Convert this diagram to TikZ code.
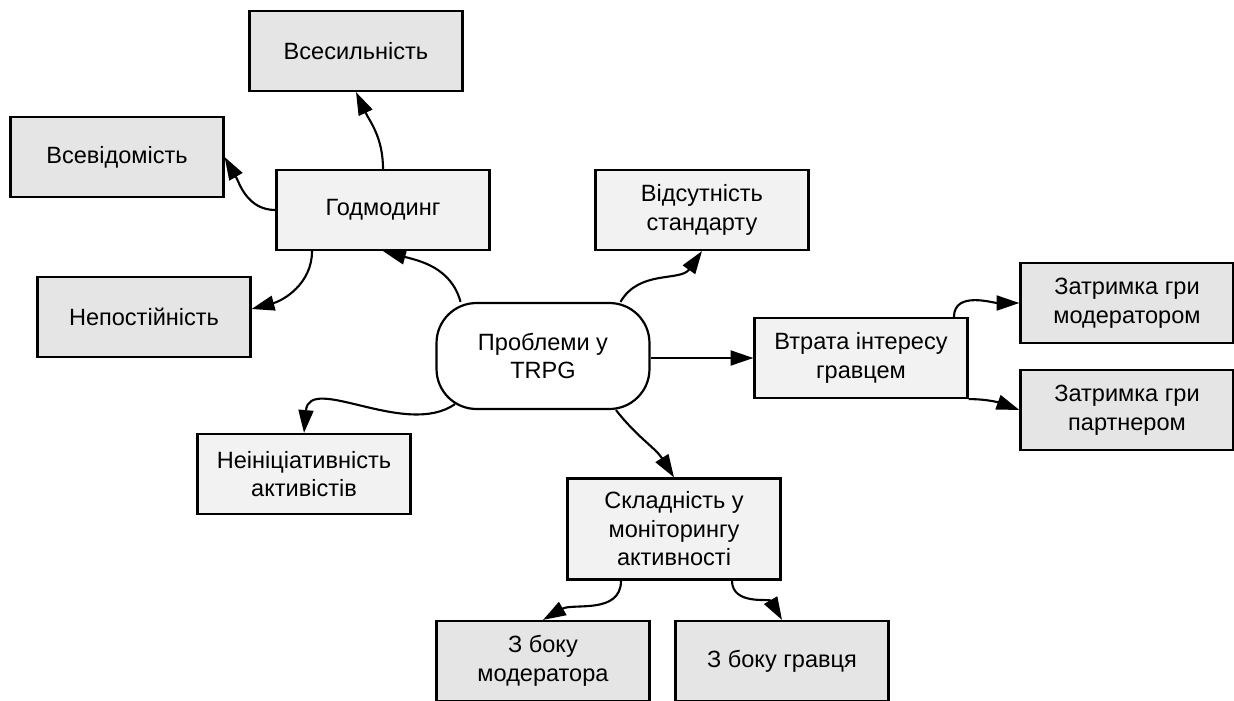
\documentclass[tikz,border=0pt]{standalone}
\usepackage{fontspec}
\setmainfont{Liberation Sans}
\usetikzlibrary{arrows.meta}
\definecolor{boxlight}{HTML}{F2F2F2}
\definecolor{boxdark}{HTML}{E5E5E5}

\begin{document}
\begin{tikzpicture}[x=0.02cm, y=0.02cm,
        topic/.style={draw, line width=1.25pt, fill=boxlight, minimum width=4.26cm,
            minimum height=1.6cm, align=center, font=\fontsize{13.4}{16.2}\selectfont},
        leaf/.style={topic, fill=boxdark},
        root/.style={topic, fill=white, rounded corners=0.8cm, minimum height=2.12cm},
        link/.style={line width=1.2pt, -{Triangle[length=13pt, width=8.5pt]}}]
        \useasboundingbox (0,0) rectangle (1234,-700);

        % centre and first ring
        \node [root] (problems) at (543,-356) {Проблеми у\\TRPG};
        \node [topic] (godmoding) at (383,-210) {Годмодинг};
        \node [topic] (nostandard) at (702,-210) {Відсутність\\стандарту};
        \node [topic] (interest) at (861,-358) {Втрата інтересу\\гравцем};
        \node [topic] (initiative) at (304,-474) {Неініціативність\\активістів};
        \node [topic, minimum height=2.02cm] (monitoring) at (674,-529) {Складність у\\моніторингу\\активності};

        % second ring
        \node [leaf] (omnipotence) at (356,-51) {Всесильність};
        \node [leaf] (omniscience) at (117,-157) {Всевідомість};
        \node [leaf] (inconstancy) at (144,-317) {Непостійність};
        \node [leaf] (delaymod) at (1127,-303) {Затримка гри\\модератором};
        \node [leaf] (delaypart) at (1127,-410) {Затримка гри\\партнером};
        \node [leaf] (sidemod) at (543,-661) {З боку\\модератора};
        \node [leaf] (sideplayer) at (782,-661) {З боку гравця};

        \draw [link] ([xshift=-1.65cm]problems.north) to[out=105, in=-15] (godmoding.south);
        \draw [link] ([xshift=1.55cm]problems.north) to[out=60, in=-125] (nostandard.south);
        \draw [link] (interest.west -| problems.east) -- (interest.west);
        \draw [link] ([xshift=-1.76cm, yshift=0.12cm]problems.south) to[out=215, in=85] (initiative.north);
        \draw [link] ([xshift=1.46cm]problems.south) to[out=-52, in=122] (monitoring.north);

        \draw [link] (godmoding.north) to[out=90, in=-65] (omnipotence.south);
        \draw [link] (godmoding.west) to[out=180, in=-60] (omniscience.east);
        \draw [link] ([xshift=-1.42cm]godmoding.south) to[out=-90, in=15] ([yshift=0.16cm]inconstancy.east);

        \draw [link] ([xshift=1.86cm]interest.north) to[out=90, in=180] (delaymod.west);
        \draw [link] (interest.south east) to[out=0, in=160] (delaypart.west);

        \draw [link] ([xshift=-1.06cm]monitoring.south) to[out=-90, in=30] (sidemod.north);
        \draw [link] ([xshift=1.16cm]monitoring.south) to[out=-90, in=120] (sideplayer.north);
    \end{tikzpicture}
\end{document}
